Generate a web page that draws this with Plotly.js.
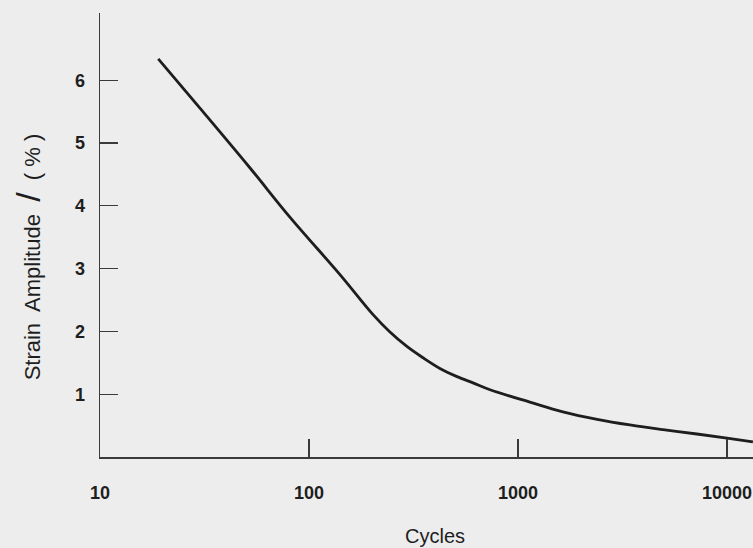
<!DOCTYPE html>
<html>
<head>
<meta charset="utf-8">
<script src="https://cdn.plot.ly/plotly-3.0.1.min.js"></script>
<style>
  html, body { margin: 0; padding: 0; background: #ededed; }
  #chart { width: 753px; height: 548px; }
</style>
</head>
<body>
<div id="chart"></div>
<script>
// Fatigue curve: strain amplitude versus number of cycles (log scale)
const cycles = [19, 30, 52, 81, 141, 202, 244, 294, 351, 423, 511, 609, 735, 1150, 1640, 2390, 3430, 4940, 7180, 10000, 13300];
const strainPct = [6.34, 5.56, 4.61, 3.82, 2.90, 2.27, 1.99, 1.76, 1.58, 1.41, 1.28, 1.18, 1.07, 0.87, 0.72, 0.60, 0.51, 0.435, 0.366, 0.30, 0.24];

const xTickVals = [10, 100, 1000, 10000];
const xTickText = ['10', '100', '1000', '10000'];
const yTickVals = [1, 2, 3, 4, 5, 6];
const yTickText = ['1', '2', '3', '4', '5', '6'];

const ink = '#1e1e1e';
const axisInk = '#3a3a3a';
const font = 'Liberation Sans, Arial, Helvetica, sans-serif';

const trace = {
  x: cycles,
  y: strainPct,
  type: 'scatter',
  mode: 'lines',
  line: { color: ink, width: 2.8, shape: 'spline', smoothing: 1.0 },
  hoverinfo: 'x+y'
};

const layout = {
  width: 753,
  height: 548,
  margin: { l: 100, r: 0, t: 13, b: 91 },
  paper_bgcolor: '#ededed',
  plot_bgcolor: '#ededed',
  showlegend: false,
  font: { family: font, color: ink },
  xaxis: {
    type: 'log',
    range: [1, 4.1244],
    showgrid: false,
    zeroline: false,
    showline: true,
    linecolor: axisInk,
    linewidth: 1.5,
    ticks: 'inside',
    ticklen: 18,
    tickwidth: 1.3,
    tickcolor: axisInk,
    tickmode: 'array',
    tickvals: xTickVals,
    ticktext: xTickText,
    ticklabelstandoff: 19,
    tickfont: { size: 18, color: ink, family: font, weight: 'bold' }
  },
  yaxis: {
    range: [0, 7.07],
    showgrid: false,
    zeroline: false,
    showline: true,
    linecolor: axisInk,
    linewidth: 1.5,
    ticks: 'inside',
    ticklen: 18,
    tickwidth: 1.3,
    tickcolor: axisInk,
    tickmode: 'array',
    tickvals: yTickVals,
    ticktext: yTickText,
    ticklabelstandoff: 10,
    tickfont: { size: 18, color: ink, family: font, weight: 'bold' }
  },
  annotations: [
    {
      text: 'Cycles',
      xref: 'paper', yref: 'paper',
      x: 0.513, y: -0.178,
      xanchor: 'center', yanchor: 'middle',
      showarrow: false,
      font: { size: 20, color: ink, family: font }
    },
    {
      text: 'Strain  Amplitude  <span style="font-size:34px;font-weight:normal">/</span>  ( % )',
      xref: 'paper', yref: 'paper',
      x: -0.11, y: 0.45,
      xanchor: 'center', yanchor: 'middle',
      textangle: -90,
      showarrow: false,
      font: { size: 22, color: ink, family: font }
    }
  ]
};

Plotly.newPlot('chart', [trace], layout, { staticPlot: true, displayModeBar: false });
</script>
</body>
</html>
